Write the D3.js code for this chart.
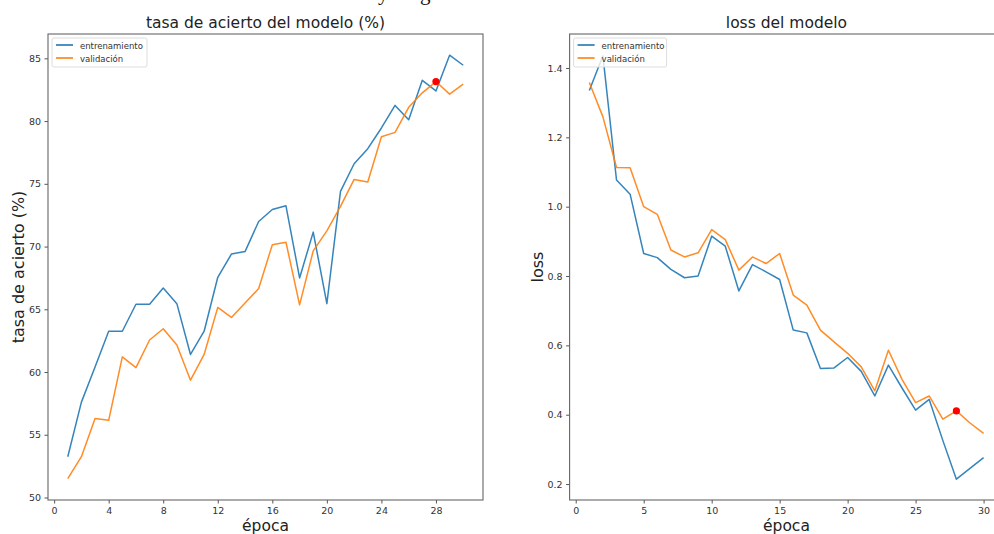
<!DOCTYPE html>
<html>
<head>
<meta charset="utf-8">
<script src="https://cdn.jsdelivr.net/npm/d3@7"></script>
<style>
  body { margin: 0; background: #fff; }
  svg { display: block; }
  .tick text { font-family: "DejaVu Sans", sans-serif; font-size: 9.5px; fill: #333; }
  .tick line { stroke: #555; }
</style>
</head>
<body>
<svg id="chart" width="994" height="534"></svg>
<script>
const epochs = d3.range(1, 31)

const accTrain = [53.25, 57.6, 60.4, 63.25, 63.25, 65.4, 65.4, 66.7, 65.45, 61.4,
  63.25, 67.55, 69.4, 69.6, 72.0, 72.95, 73.25, 67.5, 71.15, 65.45,
  74.4, 76.6, 77.8, 79.45, 81.25, 80.1, 83.25, 82.4, 85.25, 84.45]
const accVal = [51.5, 53.25, 56.3, 56.15, 61.2, 60.35, 62.55, 63.45, 62.15, 59.35,
  61.4, 65.15, 64.35, 65.5, 66.65, 70.15, 70.35, 65.35, 69.65, 71.25,
  73.2, 75.35, 75.15, 78.75, 79.1, 81.1, 82.25, 83.15, 82.15, 82.95]

const lossTrain = [1.335, 1.435, 1.077, 1.036, 0.865, 0.853, 0.819, 0.795, 0.8, 0.915,
  0.886, 0.757, 0.833, 0.812, 0.79, 0.644, 0.636, 0.533, 0.535, 0.565,
  0.525, 0.454, 0.543, 0.477, 0.413, 0.444, 0.326, 0.214, 0.245, 0.276]
const lossVal = [1.358, 1.259, 1.113, 1.112, 1.0, 0.978, 0.875, 0.855, 0.867, 0.934,
  0.905, 0.817, 0.855, 0.836, 0.865, 0.745, 0.716, 0.644, 0.61, 0.577,
  0.538, 0.469, 0.586, 0.502, 0.435, 0.454, 0.387, 0.411, 0.376, 0.346]

const bestEpoch = 28
const seriesNames = ["entrenamiento", "validación"]
const colors = ["#1f77b4", "#ff7f0e"]

const accXTicks = [0, 4, 8, 12, 16, 20, 24, 28]
const accYTicks = [50, 55, 60, 65, 70, 75, 80, 85]
const lossXTicks = [0, 5, 10, 15, 20, 25, 30]
const lossYTicks = [0.2, 0.4, 0.6, 0.8, 1.0, 1.2, 1.4]

let svg = d3.select("#chart")

// scraps of the text line above the figure (only descenders visible)
svg.append("text").attr("x", 378).attr("y", 0).attr("font-family", "Liberation Serif")
  .attr("font-size", 21).attr("fill", "#111").text("y")
svg.append("text").attr("x", 420).attr("y", 0).attr("font-family", "Liberation Serif")
  .attr("font-size", 21).attr("fill", "#111").text("g")

function panel(opts) {
  let x = d3.scaleLinear().domain([-0.45, 31.45]).range([opts.left, opts.right])
  let y = d3.scaleLinear().domain(opts.yDomain).range([500, 34])

  let g = svg.append("g")

  g.append("g")
    .attr("transform", "translate(0,500)")
    .call(d3.axisBottom(x).tickValues(opts.xTicks).tickSize(3.5).tickPadding(3.5).tickFormat(d3.format("d")))
    .call(a => a.select(".domain").remove())

  g.append("g")
    .attr("transform", "translate(" + opts.left + ",0)")
    .call(d3.axisLeft(y).tickValues(opts.yTicks).tickSize(3.5).tickPadding(3.5).tickFormat(opts.yFormat))
    .call(a => a.select(".domain").remove())

  let line = d3.line().x((d, i) => x(epochs[i])).y(d => y(d))

  opts.series.forEach(function(s, k) {
    g.append("path")
      .datum(s)
      .attr("fill", "none")
      .attr("stroke", colors[k])
      .attr("stroke-width", 1.5)
      .attr("stroke-opacity", 0.9)
      .attr("stroke-linejoin", "round")
      .attr("d", line)
  })

  g.append("circle")
    .attr("cx", x(bestEpoch))
    .attr("cy", y(opts.series[1][bestEpoch - 1]))
    .attr("r", 3.6)
    .attr("fill", "red")

  // frame
  g.append("rect")
    .attr("x", opts.left).attr("y", 34)
    .attr("width", opts.right - opts.left).attr("height", 466)
    .attr("fill", "none").attr("stroke", "#666").attr("stroke-width", 1.1)

  // legend
  let lg = g.append("g").attr("transform", "translate(" + (opts.left + 4) + ",38)")
  lg.append("rect").attr("width", opts.legendW).attr("height", 29).attr("rx", 2)
    .attr("fill", "#fff").attr("fill-opacity", 0.8).attr("stroke", "#ddd")
  seriesNames.forEach(function(n, k) {
    lg.append("line").attr("x1", 4).attr("x2", 21).attr("y1", 7 + k * 13).attr("y2", 7 + k * 13)
      .attr("stroke", colors[k]).attr("stroke-width", 1.6)
    lg.append("text").attr("x", 28).attr("y", 10.5 + k * 13)
      .attr("font-family", "DejaVu Sans").attr("font-size", 8.5).attr("fill", "#333").text(n)
  })

  let cx = (opts.left + opts.right) / 2
  g.append("text").attr("x", cx).attr("y", 28).attr("text-anchor", "middle")
    .attr("font-family", "DejaVu Sans").attr("font-size", 15.5).attr("fill", "#222").text(opts.title)
  g.append("text").attr("x", cx).attr("y", 530.5).attr("text-anchor", "middle")
    .attr("font-family", "DejaVu Sans").attr("font-size", 15.5).attr("fill", "#222").text("época")
  g.append("text")
    .attr("transform", "translate(" + opts.yLabelX + ",267) rotate(-90)")
    .attr("text-anchor", "middle")
    .attr("font-family", "DejaVu Sans").attr("font-size", 16).attr("fill", "#222").text(opts.yLabel)
}

panel({
  left: 48, right: 483,
  yDomain: [49.8, 86.94],
  xTicks: accXTicks, yTicks: accYTicks, yFormat: d3.format("d"),
  series: [accTrain, accVal],
  title: "tasa de acierto del modelo (%)",
  yLabel: "tasa de acierto (%)", yLabelX: 24,
  legendW: 95
})

panel({
  left: 569.6, right: 1003.3,
  yDomain: [0.154, 1.498],
  xTicks: lossXTicks, yTicks: lossYTicks, yFormat: d3.format(".1f"),
  series: [lossTrain, lossVal],
  title: "loss del modelo",
  yLabel: "loss", yLabelX: 543,
  legendW: 93
})
</script>
</body>
</html>
